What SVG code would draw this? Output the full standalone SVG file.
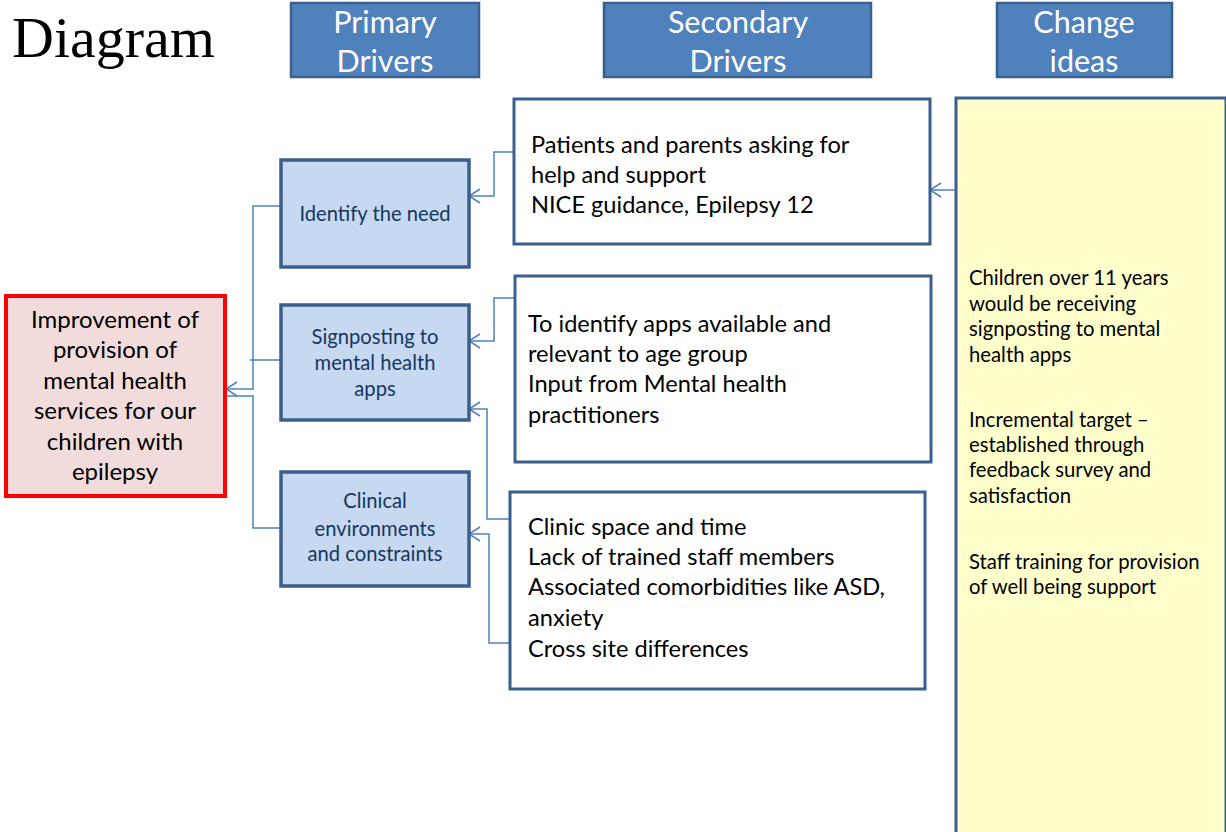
<svg xmlns="http://www.w3.org/2000/svg" width="1226" height="832" viewBox="0 0 1226 832">
<style>
.hdr{fill:#4F81BD;stroke:#3A5F8C;stroke-width:2.5}
.hdrt{font-family:Lato,"Open Sans",sans-serif;font-size:30.5px;fill:#fff;text-anchor:middle}
.sec{fill:#fff;stroke:#3A5F8C;stroke-width:3}
.sect{font-family:Lato,"Open Sans",sans-serif;font-size:23.6px;fill:#000}
.pri{fill:#C6D9F1;stroke:#3A5F8C;stroke-width:3.5}
.prit{font-family:Lato,"Open Sans",sans-serif;font-size:20.2px;fill:#17375E;text-anchor:middle}
.goal{fill:#F2DCDB;stroke:#FF0000;stroke-width:4}
.goalt{font-family:Lato,"Open Sans",sans-serif;font-size:24px;fill:#000;text-anchor:middle}
.chg{fill:#FFFFCC;stroke:#3A5F8C;stroke-width:3}
.chgt{font-family:Lato,"Open Sans",sans-serif;font-size:20.3px;fill:#000}
.con{fill:none;stroke:#4F81BD;stroke-width:1.5}
</style>
<defs>
<marker id="arr" markerUnits="userSpaceOnUse" markerWidth="14" markerHeight="16" refX="12" refY="8" orient="auto" overflow="visible">
<path d="M1,1 L12,8 L1,15" fill="none" stroke="#4F81BD" stroke-width="1.5"/>
</marker>
</defs>
<rect width="1226" height="832" fill="#fff"/>
<text x="12" y="57" font-family="'Liberation Serif',serif" font-size="58">Diagram</text>

<g id="hdr-primary"><rect class="hdr" x="291" y="3" width="188" height="74"/><text class="hdrt" x="385" y="33">Primary</text><text class="hdrt" x="385" y="72">Drivers</text></g>
<g id="hdr-secondary"><rect class="hdr" x="604" y="3" width="267" height="74"/><text class="hdrt" x="738" y="33">Secondary</text><text class="hdrt" x="738" y="72">Drivers</text></g>
<g id="hdr-change"><rect class="hdr" x="997" y="3" width="175" height="74"/><text class="hdrt" x="1084" y="33">Change</text><text class="hdrt" x="1084" y="72">ideas</text></g>

<g id="connectors">
<polyline class="con" points="520,152 494,152 494,196 469,196" marker-end="url(#arr)"/>
<polyline class="con" points="956,190 930,190" marker-end="url(#arr)"/>
<polyline class="con" points="520,298 494,298 494,341 469,341" marker-end="url(#arr)"/>
<polyline class="con" points="509,519 487,519 487,409 469,409" marker-end="url(#arr)"/>
<polyline class="con" points="509,643 489,643 489,534 469,534" marker-end="url(#arr)"/>
<polyline class="con" points="281,206 253,206 253,389 226,389" marker-end="url(#arr)"/>
<polyline class="con" points="281,360 250,360"/>
<polyline class="con" points="281,528 253,528 253,396 227,396"/>
</g>

<g id="goal"><rect class="goal" x="6" y="296" width="219" height="200"/>
<text class="goalt"><tspan x="115" y="328">Improvement of</tspan><tspan x="115" y="358">provision of</tspan><tspan x="115" y="389">mental health</tspan><tspan x="115" y="419">services for our</tspan><tspan x="115" y="450">children with</tspan><tspan x="115" y="480">epilepsy</tspan></text></g>

<g id="p1"><rect class="pri" x="281" y="160" width="188" height="107"/><text class="prit" x="375" y="221">Identify the need</text></g>
<g id="p2"><rect class="pri" x="281" y="305" width="188" height="115"/><text class="prit"><tspan x="375" y="344">Signposting to</tspan><tspan x="375" y="370">mental health</tspan><tspan x="375" y="396">apps</tspan></text></g>
<g id="p3"><rect class="pri" x="281" y="472" width="188" height="114"/><text class="prit"><tspan x="375" y="508">Clinical</tspan><tspan x="375" y="536">environments</tspan><tspan x="375" y="561">and constraints</tspan></text></g>

<g id="s1"><rect class="sec" x="514" y="99" width="416" height="145"/><text class="sect"><tspan x="531" y="153">Patients and parents asking for</tspan><tspan x="531" y="183">help and support</tspan><tspan x="531" y="213">NICE guidance, Epilepsy 12</tspan></text></g>
<g id="s2"><rect class="sec" x="515" y="276" width="416" height="186"/><text class="sect"><tspan x="528" y="332">To identify apps available and</tspan><tspan x="528" y="362">relevant to age group</tspan><tspan x="528" y="392">Input from Mental health</tspan><tspan x="528" y="423">practitioners</tspan></text></g>
<g id="s3"><rect class="sec" x="510" y="492" width="415" height="197"/><text class="sect"><tspan x="528" y="535">Clinic space and time</tspan><tspan x="528" y="565">Lack of trained staff members</tspan><tspan x="528" y="595">Associated comorbidities like ASD,</tspan><tspan x="528" y="626">anxiety</tspan><tspan x="528" y="657">Cross site differences</tspan></text></g>

<g id="change"><rect class="chg" x="956" y="98" width="270" height="740"/>
<text class="chgt"><tspan x="969" y="285">Children over 11 years</tspan><tspan x="969" y="311">would be receiving</tspan><tspan x="969" y="336">signposting to mental</tspan><tspan x="969" y="362">health apps</tspan>
<tspan x="969" y="427">Incremental target –</tspan><tspan x="969" y="452">established through</tspan><tspan x="969" y="477">feedback survey and</tspan><tspan x="969" y="503">satisfaction</tspan>
<tspan x="969" y="569">Staff training for provision</tspan><tspan x="969" y="594">of well being support</tspan></text></g>
</svg>
